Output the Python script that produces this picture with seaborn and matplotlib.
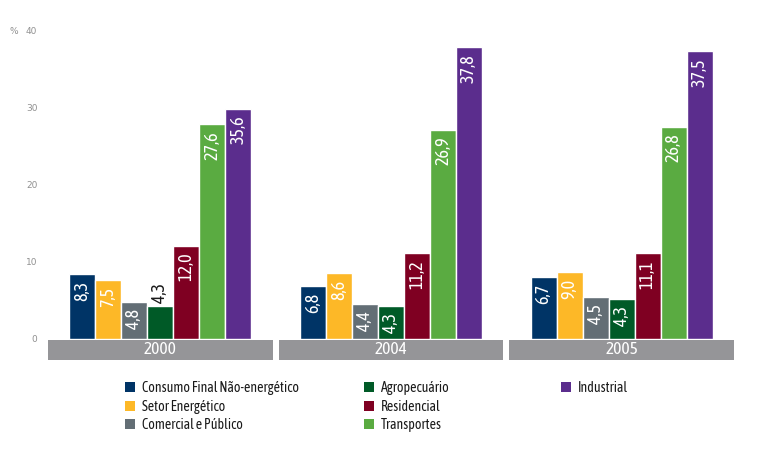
import seaborn as sns
import pandas as pd
import matplotlib.pyplot as plt
from matplotlib.patches import Patch

# dados
anos = ['2000', '2004', '2005']
setores = ['Consumo Final Não-energético', 'Setor Energético', 'Comercial e Público',
           'Agropecuário', 'Residencial', 'Transportes', 'Industrial']
cores = ['#003466', '#fdb827', '#636e75', '#005a27', '#7f0022', '#5aab41', '#5b2d8d']

# altura das barras como desenhadas (%)
consumo = [8.4, 6.9, 8.0]
energetico = [7.6, 8.5, 8.7]
comercial = [4.8, 4.5, 5.4]
agro = [4.3, 4.3, 5.2]
residencial = [12.1, 11.1, 11.1]
transportes = [27.8, 27.1, 27.5]
industrial = [29.8, 37.8, 37.3]

# rótulos impressos nas barras
rot_consumo = ['8,3', '6,8', '6,7']
rot_energetico = ['7,5', '8,6', '9,0']
rot_comercial = ['4,8', '4,4', '4,5']
rot_agro = ['4,3', '4,3', '4,3']
rot_residencial = ['12,0', '11,2', '11,1']
rot_transportes = ['27,6', '26,9', '26,8']
rot_industrial = ['35,6', '37,8', '37,5']

yticks = [0, 10, 20, 30, 40]
fora = [('Agropecuário', '2000')]  # rótulo acima da barra

valores = [consumo, energetico, comercial, agro, residencial, transportes, industrial]
rotulos = [rot_consumo, rot_energetico, rot_comercial, rot_agro,
           rot_residencial, rot_transportes, rot_industrial]

linhas = []
for s, vals in zip(setores, valores):
    for a, v in zip(anos, vals):
        linhas.append({'ano': a, 'setor': s, 'valor': v})
df = pd.DataFrame(linhas)

sns.set_style('white')
narrow = ['Asap Condensed', 'DejaVu Sans']
plt.rcParams['font.family'] = narrow

W, H = 779, 454
fig = plt.figure(figsize=(W / 100, H / 100), dpi=100)
ymin, ymax = -2.72, 40.5
ax = fig.add_axes([48 / W, (H - 360) / H, 686 / W, 333.7 / H])

sns.barplot(data=df, x='ano', y='valor', hue='setor', hue_order=setores,
            palette=cores, saturation=1, width=0.79, errorbar=None, linewidth=1,
            edgecolor='white', legend=False, ax=ax)

ax.set_xlim(-0.487, 2.487)
ax.set_ylim(ymin, ymax)

# faixas cinzas com os anos
for i, a in enumerate(anos):
    ax.fill_between([i - 0.487, i + 0.487], ymin, -0.07, color='#959598', lw=0)
    ax.text(i, (ymin - 0.07) / 2, a, color='white', ha='center', va='center',
            fontsize=12.5, family=narrow)

# rótulos das barras
for cont, s, rots in zip(ax.containers, setores, rotulos):
    for bar, a, r in zip(cont, anos, rots):
        x = bar.get_x() + bar.get_width() / 2
        h = bar.get_height()
        if (s, a) in fora:
            ax.annotate(r, (x, h), xytext=(0, 2), textcoords='offset points',
                        rotation=90, ha='center', va='bottom', color='#1a1a1a',
                        fontsize=13, family=narrow)
        else:
            ax.annotate(r, (x, h), xytext=(0, -5), textcoords='offset points',
                        rotation=90, ha='center', va='top', color='white',
                        fontsize=13, family=narrow)

ax.set_yticks(yticks)
ax.set_yticklabels([str(t) for t in yticks], color='#909090', fontsize=6.5,
                   family=['DejaVu Sans'])
ax.tick_params(axis='y', length=0, pad=7.7)
ax.tick_params(axis='x', length=0, labelbottom=False)
ax.set_xlabel('')
ax.set_ylabel('')
for sp in ax.spines.values():
    sp.set_visible(False)

fig.text(14 / W, 1 - 31 / H, '%', ha='center', va='center', color='#909090',
         fontsize=6.5, family=['DejaVu Sans'])

# legenda em três colunas
colunas = [([0, 1, 2], 118), ([3, 4, 5], 357), ([6], 554)]
for idx, x0 in colunas:
    hs = [Patch(facecolor=cores[i], edgecolor='none') for i in idx]
    lb = [setores[i] for i in idx]
    fig.legend(hs, lb, loc='upper left', bbox_to_anchor=(x0 / W, 1 - 374 / H),
               frameon=False, handlelength=0.75, handleheight=0.75,
               handletextpad=0.45, labelspacing=0.33, borderpad=0,
               labelcolor='#1a1a1a', prop={'family': narrow, 'size': 10})

fig.savefig('out.png', dpi=100, facecolor='white')
